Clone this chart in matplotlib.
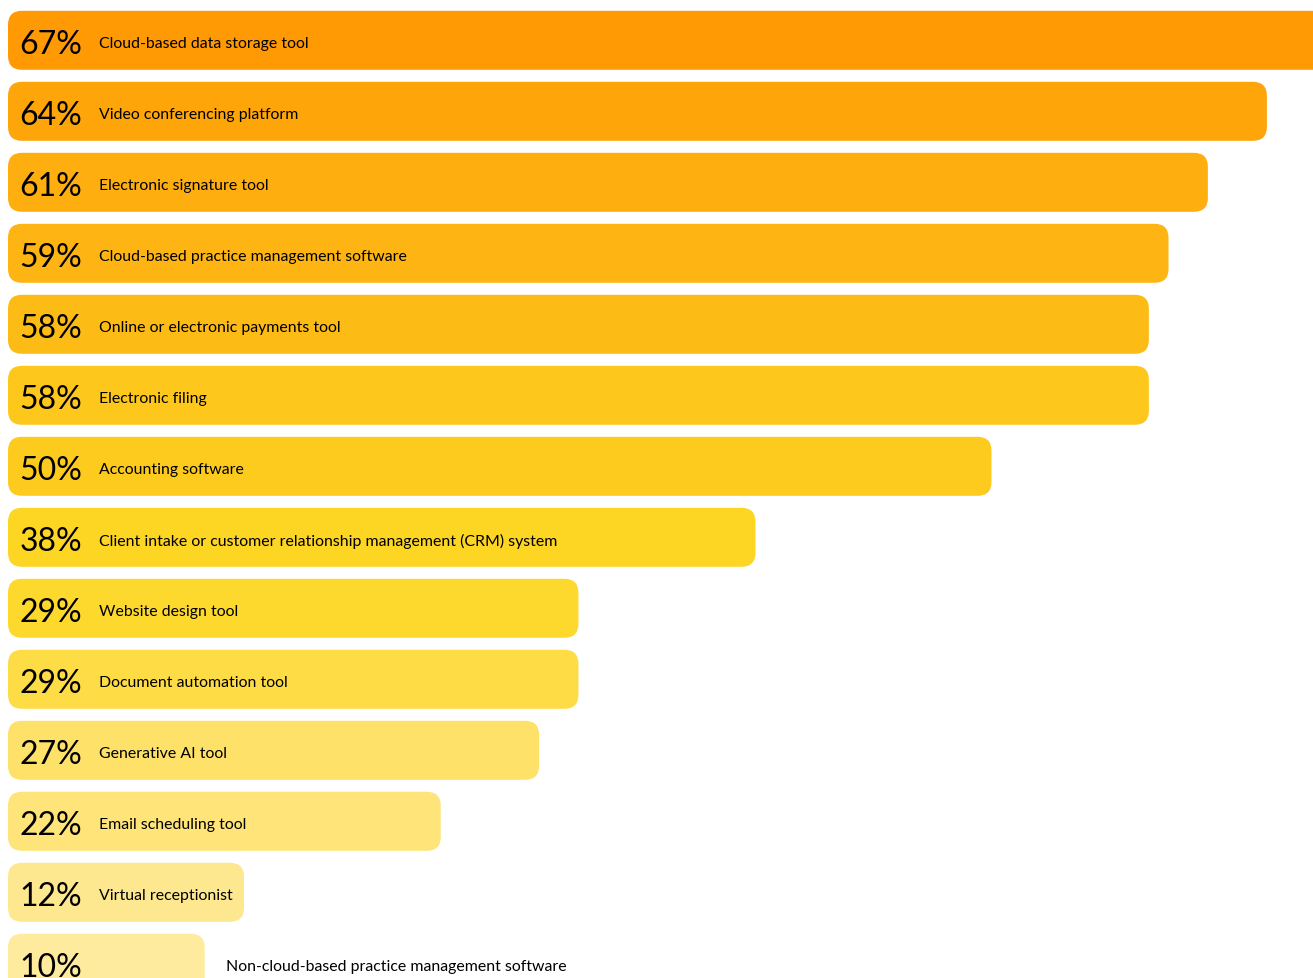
import matplotlib.pyplot as plt
from matplotlib.patches import FancyBboxPatch

# survey results, top to bottom
labels = [
    'Cloud-based data storage tool',
    'Video conferencing platform',
    'Electronic signature tool',
    'Cloud-based practice management software',
    'Online or electronic payments tool',
    'Electronic filing',
    'Accounting software',
    'Client intake or customer relationship management (CRM) system',
    'Website design tool',
    'Document automation tool',
    'Generative AI tool',
    'Email scheduling tool',
    'Virtual receptionist',
    'Non-cloud-based practice management software',
]
values = [67, 64, 61, 59, 58, 58, 50, 38, 29, 29, 27, 22, 12, 10]
colors = ['#FF9A05', '#FEA50A', '#FEAF0F', '#FEB514', '#FDBB16', '#FDC81B', '#FDCB1D',
          '#FDD523', '#FDD92E', '#FEDC45', '#FEE168', '#FEE479', '#FEE88F', '#FEEB9E']

W, H = 1313, 979
px_x = 19.67   # pixels per percent
px_y = 71.0    # pixels per row
top = 41.3     # pixel centre of first row

plt.rcParams['font.family'] = ['Lato', 'DejaVu Sans']

fig = plt.figure(figsize=(W / 100, H / 100), dpi=100)
ax = fig.add_axes([0, 0, 1, 1])
ax.set_xlim(-8 / px_x, (W - 8) / px_x)
ax.set_ylim((H - top) / px_y, -top / px_y)
ax.axis('off')

bar_h = 59 / px_y
radius = 14 / px_x
for i, (lab, v, c) in enumerate(zip(labels, values, colors)):
    box = FancyBboxPatch((0, i - bar_h / 2), v, bar_h,
                         boxstyle='round,pad=0,rounding_size=%f' % radius,
                         mutation_aspect=px_x / px_y,
                         facecolor=c, edgecolor='none')
    ax.add_patch(box)
    ax.text(74 / px_x, i + 0.05, '%d%%' % v, ha='right', va='center',
            fontsize=23, color='black')
    if v > 11:
        x_lab = 91 / px_x
    else:
        x_lab = v + 21 / px_x
    ax.text(x_lab, i + 0.04, lab, ha='left', va='center',
            fontsize=11.4, color='black')

fig.savefig('out.png', dpi=100)
